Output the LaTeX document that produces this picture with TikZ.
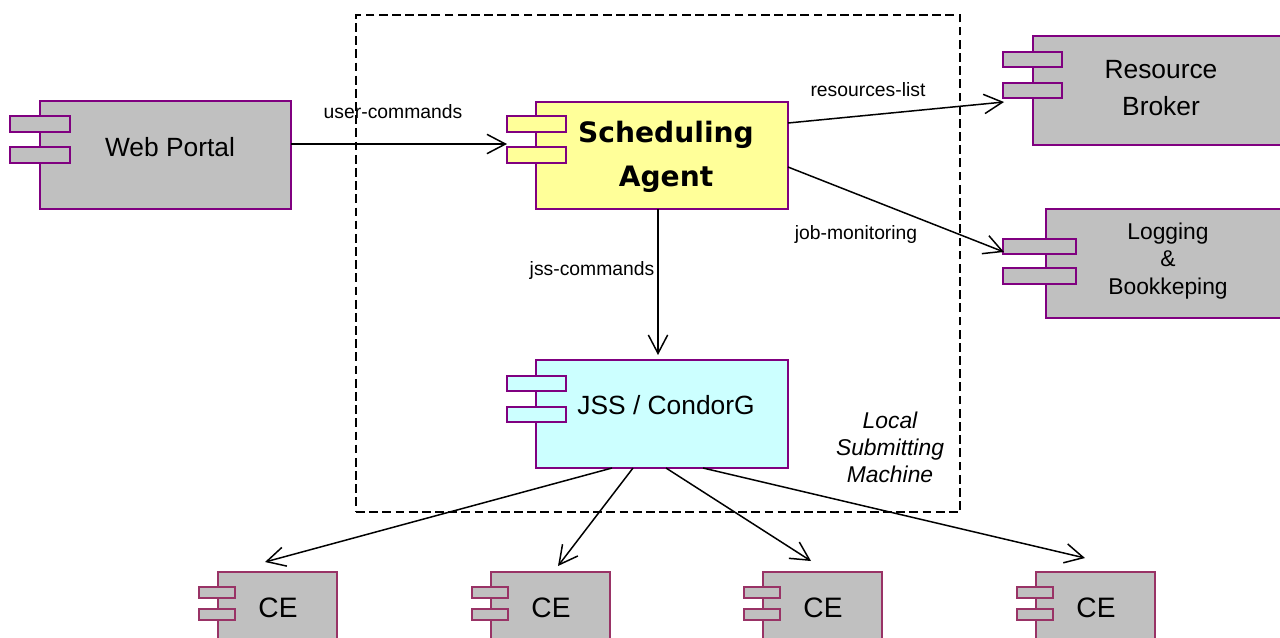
\documentclass[tikz,border=0pt]{standalone}
\usepackage{fontspec}
\setmainfont{Liberation Sans}
\newfontfamily\agentfont{DejaVu Sans}
\usetikzlibrary{arrows.meta, fit, calc}

\definecolor{umlpurple}{HTML}{800080}
\definecolor{umlmaroon}{HTML}{993366}
\definecolor{compgray}{HTML}{C0C0C0}
\definecolor{agentyellow}{HTML}{FFFF99}
\definecolor{jsscyan}{HTML}{CCFFFF}

\tikzset{
  comp/.style={draw=umlpurple, line width=1.1pt, fill=compgray, inner sep=0pt, outer sep=0pt},
  port/.style={draw=umlpurple, line width=1.1pt, fill=compgray},
  machine/.style={draw, line width=1pt, dash pattern=on 5pt off 2.5pt, inner sep=0pt},
  flow/.style={-{Straight Barb[length=10.5pt, width=11pt]}, line width=0.85pt},
  big/.style={font=\fontsize{15}{21}\selectfont, align=center},
  lbl/.style={font=\fontsize{11}{13}\selectfont},
}

\begin{document}
\begin{tikzpicture}[x=0.02cm, y=-0.02cm]
    \clip (0,0) rectangle (1280,637);

    % local machine boundary
    \node[machine, fit={(356,15) (960,512)}] (lsm) {};
    \node[font=\itshape\fontsize{13}{15.3}\selectfont, align=center] (lsmtext) at (890,447) {Local\\Submitting\\Machine};

    % web portal
    \node[comp, fit={(40,101) (291,209)}] (portal) {};
    \draw[port] (10,116) rectangle (70,132);
    \draw[port] (10,147) rectangle (70,163);
    \node[big] (portaltext) at (170,147) {Web Portal};

    % scheduling agent
    \node[comp, fill=agentyellow, fit={(536,102) (788,209)}] (agent) {};
    \draw[port, fill=agentyellow] (507,116) rectangle (566,132);
    \draw[port, fill=agentyellow] (507,147) rectangle (566,163);
    \node[font=\agentfont\bfseries\fontsize{16}{25}\selectfont, align=center] (agenttext) at (666,157) {Scheduling\\Agent};

    % resource broker
    \node[comp, fit={(1033,36) (1285,145)}] (broker) {};
    \draw[port] (1003,52) rectangle (1062,67);
    \draw[port] (1003,83) rectangle (1062,98);
    \node[big, font=\fontsize{15}{20.8}\selectfont] (brokertext) at (1161,88) {Resource\\Broker};

    % logging and bookkeeping
    \node[comp, fit={(1046,209) (1290,318)}] (logging) {};
    \draw[port] (1003,239) rectangle (1076,254);
    \draw[port] (1003,268) rectangle (1076,284);
    \node[align=center, font=\fontsize{13}{15.6}\selectfont] (loggingtext) at (1168,261) {Logging\\\&\\Bookkeping};

    % jss / condorg
    \node[comp, fill=jsscyan, fit={(536,360) (788,468)}] (jss) {};
    \draw[port, fill=jsscyan] (507,376) rectangle (566,391);
    \draw[port, fill=jsscyan] (507,407) rectangle (566,422);
    \node[big] (jsstext) at (666,405) {JSS / CondorG};

    % computing elements
    \foreach \x [count=\i] in {218,491,763,1036} {
        \node[comp, draw=umlmaroon, fit={(\x,572) (\x+119,680)}] (ce\i) {};
        \draw[port, draw=umlmaroon] (\x-19,587) rectangle (\x+17,598);
        \draw[port, draw=umlmaroon] (\x-19,609) rectangle (\x+17,620);
        \node[big, font=\fontsize{16}{20}\selectfont] (cetext\i) at (\x+60,608) {CE};
    }

    % arrow ends
    \coordinate (agentin) at (507,144);
    \coordinate (brokerin) at (1004,102);
    \coordinate (loggingin) at (1004,252);
    \coordinate (jssin) at (658,355);
    \coordinate (cein1) at (265,562);
    \coordinate (cein2) at (558,566);
    \coordinate (cein3) at (811,561);
    \coordinate (cein4) at (1085,558);

    \draw[flow] ($(portal.north east)+(0,43)$) -- (agentin);
    \draw[flow] ($(agent.north east)+(0,21)$) -- (brokerin);
    \draw[flow] ($(agent.south east)+(0,-42)$) -- (loggingin);
    \draw[flow] ($(agent.south)+(-4,0)$) -- (jssin);
    \foreach \dx [count=\i] in {76,97,130,167}
        \draw[flow] ($(jss.south west)+(\dx,0)$) -- (cein\i);

    \node[lbl] (usercmd) at (393,112) {user-commands};
    \node[lbl] (reslist) at (868,90) {resources-list};
    \node[lbl] (jobmon) at (856,234) {job-monitoring};
    \node[lbl] (jsscmd) at (592,270) {jss-commands};
\end{tikzpicture}
\end{document}
